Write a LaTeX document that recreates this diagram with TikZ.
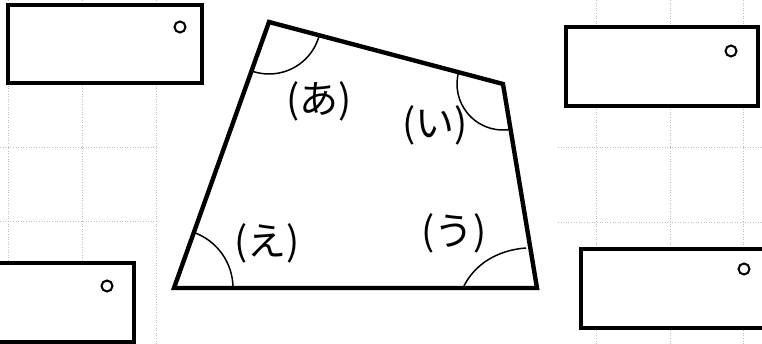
\documentclass[tikz,border=0pt]{standalone}
\usepackage{fontspec}
\newfontfamily\jp{Noto Sans CJK JP}
\begin{document}
\begin{tikzpicture}[x=1pt,y=-1pt,
  gridline/.style={black!25,dotted,line width=0.6pt},
  card/.style={draw=black,fill=white,line width=3.3pt},
  hole/.style={draw=black,line width=2pt},
  figline/.style={line width=4.4pt,line join=miter},
  anglearc/.style={line width=1.5pt},
  lbl/.style={font=\jp\fontsize{39}{39}\selectfont,inner sep=0pt}]
\useasboundingbox (0,0) rectangle (762,344);
\clip (0,0) rectangle (762,344);
% faint grid
\foreach \x in {8,82,156,596,670,743} \draw[gridline] (\x,0) -- (\x,344);
\draw[gridline] (0,147) -- (156,147);
\draw[gridline] (0,221) -- (156,221);
\draw[gridline] (558,147) -- (762,147);
\draw[gridline] (558,222) -- (762,222);
% cards
\draw[card] (8,5) rectangle (202,83);
\draw[hole] (180,27) circle (5.5);
\draw[card] (566,27) rectangle (758,106);
\draw[hole] (731,51) circle (5.5);
\draw[card] (-5,263) rectangle (134,342);
\draw[hole] (107,286) circle (5.5);
\draw[card] (581,249) rectangle (775,328);
\draw[hole] (744,269) circle (5.5);
% quadrilateral
\coordinate (A) at (269,22);
\coordinate (B) at (503,84);
\coordinate (C) at (537,288);
\coordinate (D) at (174,288);
\draw[figline] (A) -- (B) -- (C) -- (D) -- cycle;
% angle marks
\draw[anglearc] (A) ++(14.8:52) arc (14.8:109.7:52);
\draw[anglearc] (B) ++(80.5:46) arc (80.5:194.8:46);
\draw[anglearc] (463,288) .. controls (474,264) and (498,250) .. (526,248);
\draw[anglearc] (D) ++(-70.3:59) arc (-70.3:0:59);
% labels
\node[lbl] (la) at (319,101) {(あ)};
\node[lbl] (li) at (435,125) {(い)};
\node[lbl] (lu) at (454,233) {(う)};
\node[lbl] (le) at (267,243) {(え)};
\end{tikzpicture}
\end{document}
